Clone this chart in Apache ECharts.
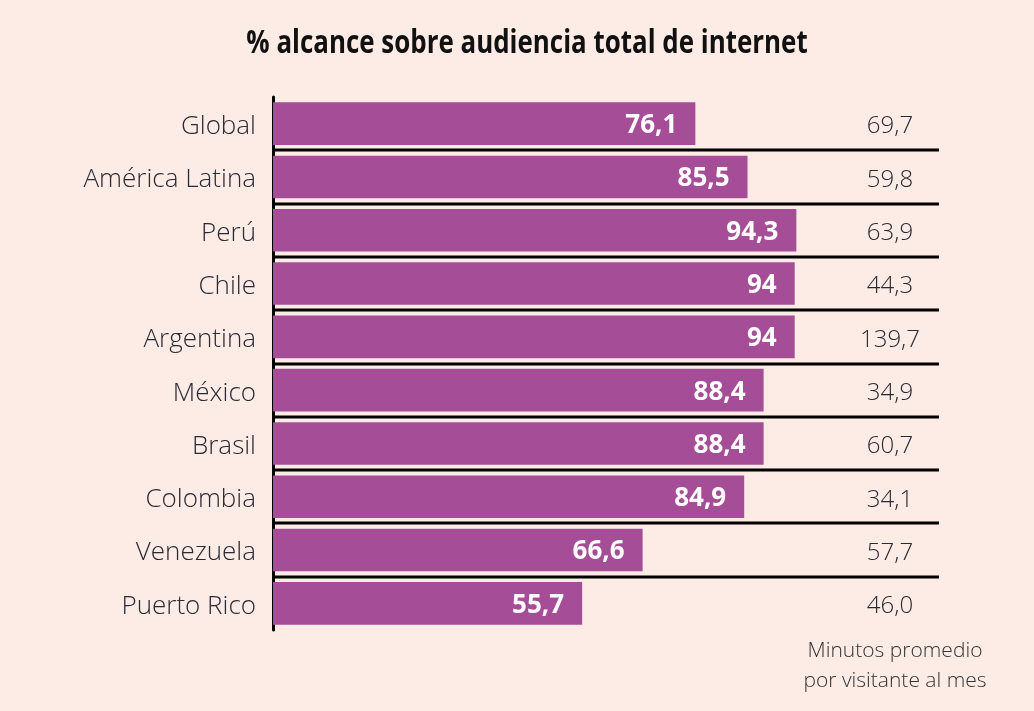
<!DOCTYPE html>
<html>
<head>
<meta charset="utf-8">
<script src="https://cdn.jsdelivr.net/npm/echarts@6/dist/echarts.min.js"></script>
<style>
  html, body { margin: 0; padding: 0; background: #fdebe5; }
  #chart { width: 1034px; height: 711px; }
</style>
</head>
<body>
<div id="chart"></div>
<script>
// Internet audience reach by market (%), with average minutes per visitor per month
const categories = ['Global', 'América Latina', 'Perú', 'Chile', 'Argentina', 'México', 'Brasil', 'Colombia', 'Venezuela', 'Puerto Rico'];
const reach = [76.1, 85.5, 94.3, 94, 94, 88.4, 88.4, 84.9, 66.6, 55.7];
const minutes = ['69,7', '59,8', '63,9', '44,3', '139,7', '34,9', '60,7', '34,1', '57,7', '46,0'];

const fmt = v => String(v).replace('.', ',');

const chart = echarts.init(document.getElementById('chart'));
chart.setOption({
  backgroundColor: '#fdebe5',
  animation: false,
  graphic: [{
    // condensed bold heading
    type: 'text',
    x: 527,
    y: 28,
    scaleX: 0.81,
    style: {
      text: '% alcance sobre audiencia total de internet',
      align: 'center',
      fontFamily: '"Open Sans", sans-serif',
      fontWeight: 'bold',
      fontSize: 32,
      fill: '#111'
    }
  }, {
    type: 'text',
    x: 895,
    y: 636,
    style: {
      text: 'Minutos promedio\npor visitante al mes',
      align: 'center',
      fontFamily: '"Open Sans", sans-serif',
      fontWeight: 300,
      fontSize: 21,
      lineHeight: 30,
      fill: '#333'
    }
  }],
  grid: { left: 273, top: 97, width: 666, height: 533 },
  xAxis: {
    type: 'value', min: 0, max: 120, show: false
  },
  yAxis: [{
    type: 'category',
    data: categories,
    inverse: true,
    axisLine: { show: true, lineStyle: { color: '#000', width: 3 } },
    axisTick: { show: false },
    splitLine: { show: false },
    axisLabel: {
      margin: 17,
      verticalAlign: 'top',
      lineHeight: 6,
      fontFamily: '"Open Sans", sans-serif',
      fontWeight: 300,
      fontSize: 26,
      color: '#2a2a35'
    }
  }, {
    type: 'category',
    data: minutes,
    inverse: true,
    position: 'right',
    axisLine: { show: false },
    axisTick: { show: false },
    axisLabel: {
      inside: true,
      margin: 49,
      align: 'center',
      verticalAlign: 'top',
      lineHeight: 6,
      fontFamily: '"Open Sans", sans-serif',
      fontWeight: 300,
      fontSize: 24,
      color: '#2a2a35'
    }
  }],
  series: [{
    type: 'bar',
    data: reach,
    barWidth: '80%',
    itemStyle: { color: '#a54e97' },
    label: {
      show: true,
      position: 'insideRight',
      distance: 18,
      offset: [0, 2],
      formatter: p => fmt(p.value),
      fontFamily: '"Open Sans", sans-serif',
      fontWeight: 'bold',
      fontSize: 26,
      color: '#fff'
    },
    z: 2
  }, {
    // row separators drawn under every category except the last one
    type: 'custom',
    data: categories.slice(0, -1).map((c, i) => i),
    renderItem: (params, api) => {
      const idx = api.value(0);
      const c = api.coord([0, idx]);
      const h = api.size([0, 1])[1];
      const y = Math.round(c[1] + h / 2);
      const rect = params.coordSys;
      return {
        type: 'line',
        shape: { x1: rect.x, y1: y, x2: rect.x + rect.width, y2: y },
        style: { stroke: '#000', lineWidth: 3 }
      };
    },
    encode: { x: -1, y: 0 },
    silent: true,
    z: 3
  }]
});
</script>
</body>
</html>
